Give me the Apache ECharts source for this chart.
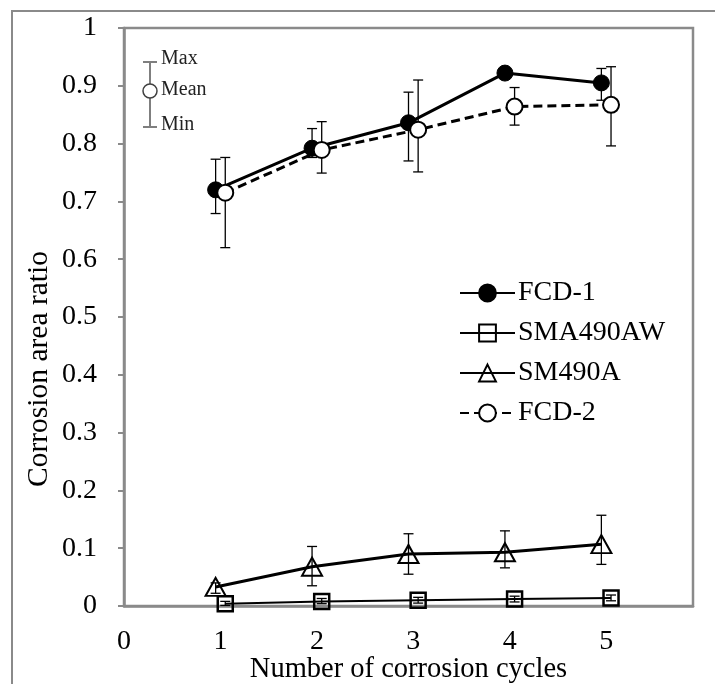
<!DOCTYPE html>
<html>
<head>
<meta charset="utf-8">
<script src="https://cdn.jsdelivr.net/npm/echarts@6.0.0/dist/echarts.min.js"></script>
<style>
  html, body { margin: 0; padding: 0; background: #fff; }
  #main { width: 715px; height: 684px; }
</style>
</head>
<body>
<div id="main"></div>
<script>
// 腐食サイクル数と腐食面積率
var cycles = [1, 2, 3, 4, 5]
var xTicks = [0, 1, 2, 3, 4, 5]
var shiftLeft = -0.05   // FCD-1, SM490A drawn a bit left of the cycle
var shiftRight = 0.05   // FCD-2, SMA490AW drawn a bit right

var fcd1 = [0.720, 0.792, 0.836, 0.922, 0.905]
var fcd1Max = [0.773, 0.826, 0.889, 0.927, 0.930]
var fcd1Min = [0.679, 0.776, 0.770, 0.916, 0.875]

var sma490aw = [0.004, 0.008, 0.010, 0.012, 0.014]
var sma490awMax = [0.008, 0.013, 0.015, 0.017, 0.019]
var sma490awMin = [0.001, 0.004, 0.005, 0.007, 0.009]

var sm490a = [0.033, 0.068, 0.090, 0.093, 0.107]
var sm490aMax = [0.040, 0.103, 0.125, 0.130, 0.157]
var sm490aMin = [0.022, 0.035, 0.055, 0.066, 0.072]

var fcd2 = [0.715, 0.789, 0.824, 0.864, 0.867]
var fcd2Max = [0.776, 0.838, 0.910, 0.897, 0.933]
var fcd2Min = [0.620, 0.749, 0.751, 0.832, 0.796]

var serif = "'Liberation Serif', 'DejaVu Serif', serif"
var gray = '#8a8a8a'

function pts (vals, shift) {
  return vals.map(function (v, i) { return [cycles[i] + shift, v] })
}
function bars (minArr, maxArr, shift) {
  return minArr.map(function (v, i) { return [cycles[i] + shift, v, maxArr[i]] })
}

// エラーバー（最大・最小）
function errorBar (params, api) {
  var x = api.value(0)
  var lo = api.coord([x, api.value(1)])
  var hi = api.coord([x, api.value(2)])
  var w = 5
  var st = { stroke: '#000', lineWidth: 1.3 }
  return {
    type: 'group',
    children: [
      { type: 'line', shape: { x1: lo[0], y1: lo[1], x2: hi[0], y2: hi[1] }, style: st },
      { type: 'line', shape: { x1: hi[0] - w, y1: hi[1], x2: hi[0] + w, y2: hi[1] }, style: st },
      { type: 'line', shape: { x1: lo[0] - w, y1: lo[1], x2: lo[0] + w, y2: lo[1] }, style: st }
    ]
  }
}
function barSeries (data, z) {
  return { type: 'custom', renderItem: errorBar, data: data, z: z, silent: true, clip: false }
}

var myChart = echarts.init(document.getElementById('main'))
var option = {
  animation: false,
  backgroundColor: '#fff',
  grid: {
    left: 124, top: 28, right: 22, bottom: 78,
    show: true, borderColor: gray, borderWidth: 2.5,
    containLabel: false, outerBoundsMode: 'none'
  },
  legend: {
    orient: 'vertical',
    left: 459, top: 279,
    itemWidth: 55, itemHeight: 21, itemGap: 12,
    padding: 0,
    textStyle: { fontFamily: serif, fontSize: 28, color: '#000', padding: [0, 0, 0, -2] },
    data: ['FCD-1', 'SMA490AW', 'SM490A', 'FCD-2']
  },
  xAxis: {
    type: 'value',
    min: 0, max: 5.9, interval: 1,
    name: 'Number of corrosion cycles',
    nameLocation: 'middle', nameGap: 49, nameMoveOverlap: false,
    nameTextStyle: { fontFamily: serif, fontSize: 28.5, color: '#000' },
    axisLine: { show: true, lineStyle: { color: gray, width: 2.5 } },
    axisTick: { show: false },
    splitLine: { show: false },
    axisLabel: {
      fontFamily: serif, fontSize: 28, color: '#000', margin: 22,
      formatter: function (v) { return xTicks.indexOf(v) >= 0 ? String(v) : '' }
    }
  },
  yAxis: {
    type: 'value',
    min: 0, max: 1, interval: 0.1,
    name: 'Corrosion area ratio',
    nameLocation: 'middle', nameGap: 70, nameMoveOverlap: false,
    nameTextStyle: { fontFamily: serif, fontSize: 29.5, color: '#000', padding: [0, 104, 0, 0] },
    axisLine: { show: true, lineStyle: { color: gray, width: 2.5 } },
    axisTick: { show: true, inside: false, length: 6, lineStyle: { color: gray, width: 2 } },
    splitLine: { show: false },
    axisLabel: { fontFamily: serif, fontSize: 28, color: '#000', margin: 27 }
  },
  graphic: [
    // 外枠
    { type: 'rect', shape: { x: 12, y: 11, width: 720, height: 700 }, style: { fill: 'none', stroke: gray, lineWidth: 2 }, z: 0, silent: true },
    // Max / Mean / Min の凡例
    { type: 'line', shape: { x1: 150, y1: 62, x2: 150, y2: 127 }, style: { stroke: '#7f7f7f', lineWidth: 2 }, z: 10 },
    { type: 'line', shape: { x1: 143, y1: 62, x2: 157, y2: 62 }, style: { stroke: '#7f7f7f', lineWidth: 2 }, z: 10 },
    { type: 'line', shape: { x1: 143, y1: 127, x2: 157, y2: 127 }, style: { stroke: '#7f7f7f', lineWidth: 2 }, z: 10 },
    { type: 'circle', shape: { cx: 150, cy: 91, r: 7 }, style: { fill: '#fff', stroke: '#404040', lineWidth: 1.5 }, z: 11 },
    { type: 'text', left: 161, top: 49, style: { text: 'Max', font: '20px ' + serif, fill: '#222' }, z: 11 },
    { type: 'text', left: 161, top: 80, style: { text: 'Mean', font: '20px ' + serif, fill: '#222' }, z: 11 },
    { type: 'text', left: 161, top: 115, style: { text: 'Min', font: '20px ' + serif, fill: '#222' }, z: 11 }
  ],
  series: [
    barSeries(bars(fcd1Min, fcd1Max, shiftLeft), 2),
    barSeries(bars(sma490awMin, sma490awMax, shiftRight), 2),
    barSeries(bars(sm490aMin, sm490aMax, shiftLeft), 2),
    barSeries(bars(fcd2Min, fcd2Max, shiftRight), 2),
    {
      name: 'FCD-1', type: 'line', data: pts(fcd1, shiftLeft), z: 3,
      symbol: 'circle', symbolSize: 16,
      itemStyle: { color: '#000', borderColor: '#000', borderWidth: 1 },
      lineStyle: { color: '#000', width: 3 }
    },
    {
      name: 'SMA490AW', type: 'line', data: pts(sma490aw, shiftRight), z: 3,
      symbol: 'rect', symbolSize: 15,
      itemStyle: { color: 'rgba(255,255,255,0)', borderColor: '#000', borderWidth: 2.5 },
      lineStyle: { color: '#000', width: 2 }
    },
    {
      name: 'SM490A', type: 'line', data: pts(sm490a, shiftLeft), z: 3,
      symbol: 'triangle', symbolSize: [20, 18],
      itemStyle: { color: 'rgba(255,255,255,0)', borderColor: '#000', borderWidth: 2 },
      lineStyle: { color: '#000', width: 3 }
    },
    {
      name: 'FCD-2', type: 'line', data: pts(fcd2, shiftRight), z: 4,
      symbol: 'circle', symbolSize: 16,
      itemStyle: { color: '#fff', borderColor: '#000', borderWidth: 2 },
      lineStyle: { color: '#000', width: 3, type: [9, 5] }
    }
  ]
}
myChart.setOption(option)
</script>
</body>
</html>
